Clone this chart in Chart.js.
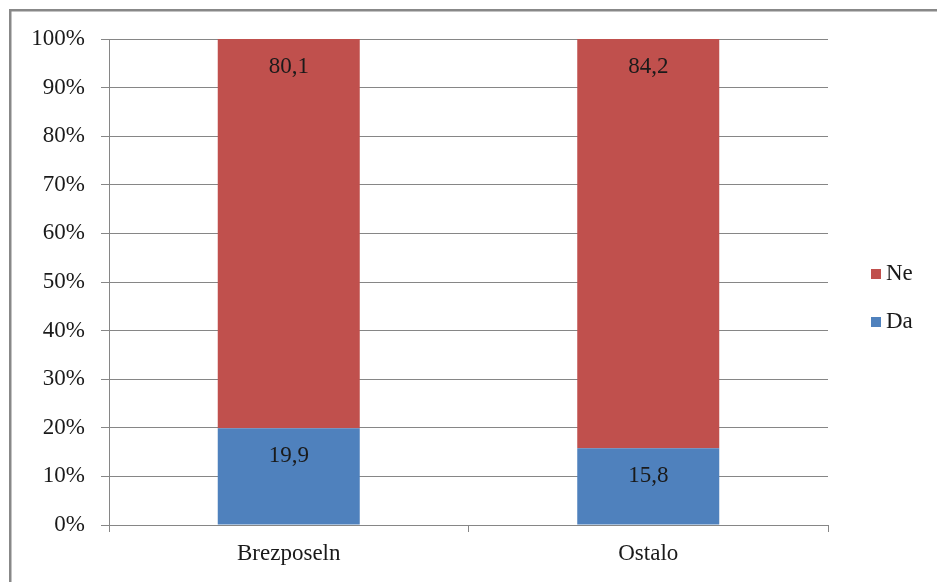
<!DOCTYPE html>
<html>
<head>
<meta charset="utf-8">
<script src="https://cdn.jsdelivr.net/npm/chart.js@4.4.1/dist/chart.umd.min.js"></script>
<style>
  html, body { margin: 0; padding: 0; background: #fff; overflow: hidden; }
  #wrap { width: 937px; height: 582px; }
</style>
</head>
<body>
<div id="wrap"><canvas id="myChart" width="937" height="582"></canvas></div>
<script>
const categories = ["Brezposeln", "Ostalo"];
const daValues = [19.9, 15.8];
const neValues = [80.1, 84.2];
const yTicks = [0, 10, 20, 30, 40, 50, 60, 70, 80, 90, 100];

const FONT = "'Liberation Serif', 'Times New Roman', serif";

// okvir okoli grafa
const framePlugin = {
  id: "frame",
  beforeDraw(chart) {
    const ctx = chart.ctx;
    ctx.save();
    ctx.fillStyle = "#fff";
    ctx.fillRect(0, 0, chart.width, chart.height);
    ctx.strokeStyle = "#888888";
    ctx.lineWidth = 2.5;
    ctx.strokeRect(10.25, 10.25, 1000, 1000);
    ctx.restore();
  },
};

// vrednosti v stolpcih
const valueLabels = {
  id: "valueLabels",
  afterDatasetsDraw(chart) {
    const ctx = chart.ctx;
    ctx.save();
    ctx.font = "23px " + FONT;
    ctx.fillStyle = "#1a1a1a";
    ctx.textAlign = "center";
    ctx.textBaseline = "middle";
    chart.data.datasets.forEach((ds, i) => {
      const meta = chart.getDatasetMeta(i);
      meta.data.forEach((bar, j) => {
        const txt = ds.data[j].toFixed(1).replace(".", ",");
        ctx.fillText(txt, bar.x, bar.y + 28);
      });
    });
    ctx.restore();
  },
};

// legenda na desni
const sideLegend = {
  id: "sideLegend",
  afterDraw(chart) {
    const ctx = chart.ctx;
    const items = chart.data.datasets.slice().reverse();
    ctx.save();
    ctx.font = "23px " + FONT;
    ctx.textBaseline = "middle";
    items.forEach((ds, i) => {
      const y = 274 + i * 48;
      ctx.fillStyle = ds.backgroundColor;
      ctx.fillRect(871, y - 5, 10, 10);
      ctx.fillStyle = "#1a1a1a";
      ctx.fillText(ds.label, 886, y);
    });
    ctx.restore();
  },
};

function createChart() {
  const ctx = document.getElementById("myChart").getContext("2d");
  new Chart(ctx, {
    type: "bar",
    data: {
      labels: categories,
      datasets: [
        {
          label: "Da",
          data: daValues,
          backgroundColor: "#4F81BD",
        },
        {
          label: "Ne",
          data: neValues,
          backgroundColor: "#C0504D",
        },
      ],
    },
    options: {
      responsive: false,
      animation: false,
      layout: { padding: { top: 39, right: 109, bottom: 0, left: 0 } },
      datasets: {
        bar: { categoryPercentage: 1, barPercentage: 0.395 },
      },
      plugins: {
        legend: { display: false },
        tooltip: { enabled: false },
      },
      scales: {
        x: {
          stacked: true,
          grid: {
            drawOnChartArea: false,
            drawTicks: true,
            tickLength: 7,
            color: "#868686",
            offset: true,
          },
          border: { color: "#868686" },
          ticks: {
            color: "#1a1a1a",
            font: { family: FONT, size: 23 },
            padding: 8,
          },
          afterFit(scale) {
            scale.height = 57;
          },
        },
        y: {
          stacked: true,
          min: 0,
          max: 100,
          afterBuildTicks(scale) {
            scale.ticks = yTicks.map((v) => ({ value: v }));
          },
          grid: {
            color: "#868686",
            tickLength: 8,
          },
          border: { color: "#868686" },
          ticks: {
            color: "#1a1a1a",
            font: { family: FONT, size: 23 },
            padding: 16,
            callback: (v) => v + "%",
          },
          afterFit(scale) {
            scale.width = 109;
          },
        },
      },
    },
    plugins: [framePlugin, valueLabels, sideLegend],
  });
}

document.addEventListener("DOMContentLoaded", () => {
  createChart();
});
</script>
</body>
</html>
